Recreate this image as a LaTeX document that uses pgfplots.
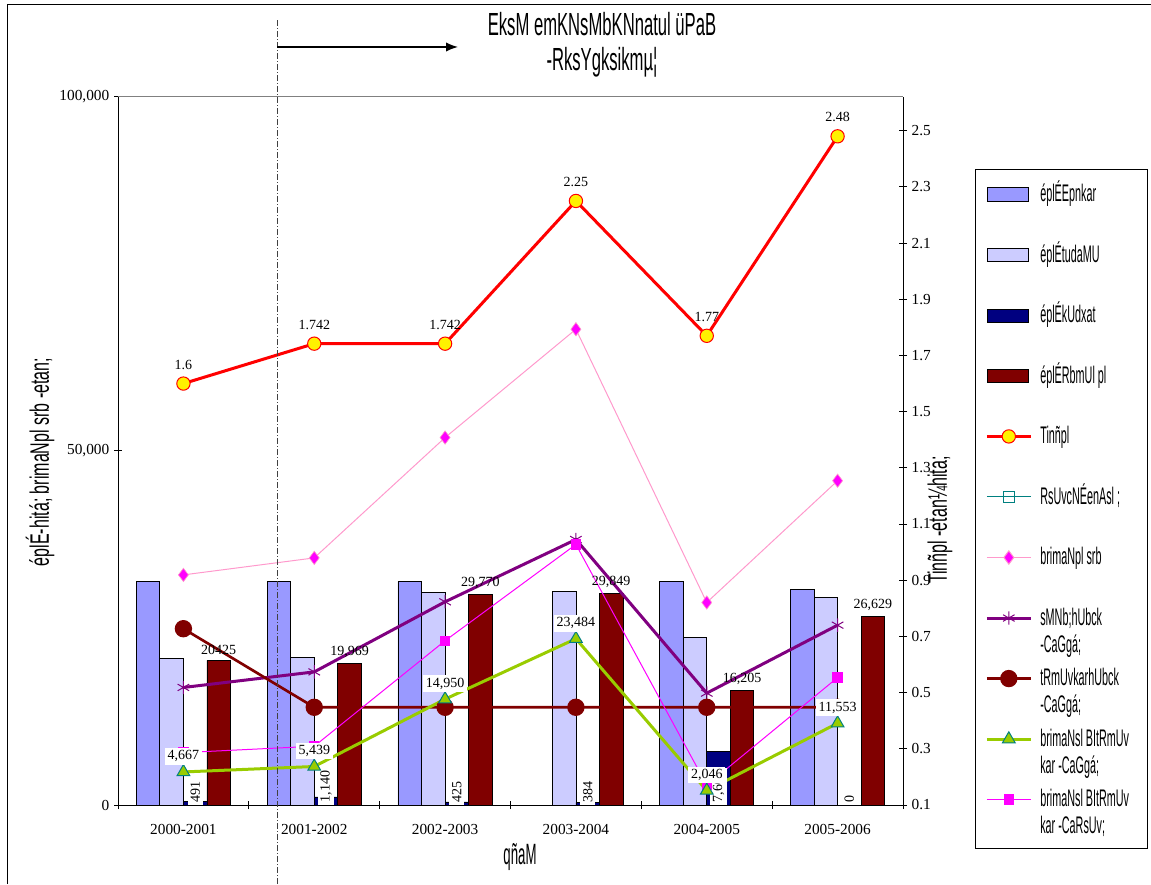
\documentclass[border=0pt]{standalone}
\usepackage{fontspec}
\setmainfont{Liberation Serif}
\newfontfamily\kfont[FakeStretch=0.45]{Liberation Sans}
\newfontfamily\ktitle[FakeStretch=0.52]{Liberation Sans}
\newfontfamily\klab[FakeStretch=0.6]{Liberation Sans}
\usepackage{pgfplots}
\pgfplotsset{compat=1.18}
\usetikzlibrary{arrows.meta}
\definecolor{b1}{HTML}{9999FF}
\definecolor{b2}{HTML}{CCCCFF}
\definecolor{b3}{HTML}{000080}
\definecolor{b4}{HTML}{800000}
\definecolor{pk}{HTML}{FF99CC}
\definecolor{mg}{HTML}{FF00FF}
\definecolor{pu}{HTML}{800080}
\definecolor{gr}{HTML}{99CC00}
\definecolor{tl}{HTML}{008080}
\newcommand\lab{\fontsize{10.5pt}{12pt}\selectfont}
\pgfplotsset{
 barleg/.style={legend image code/.code={\draw[##1] (0pt,-4.9pt) rectangle (31pt,4.9pt);}},
 lineleg/.style={legend image code/.code={\draw[mark repeat=2,mark phase=2,##1] plot coordinates {(0pt,0pt) (16.5pt,0pt) (33pt,0pt)};}},
}
\begin{document}
\begin{tikzpicture}
\useasboundingbox (0,0) rectangle (863.25pt,663pt);
\draw[line width=0.75pt] (5.25pt,0pt) -- (5.25pt,659.25pt) -- (863.25pt,659.25pt);
\begin{axis}[
 at={(88.5pt,59.25pt)}, anchor=south west,
 scale only axis, width=588.75pt, height=531pt,
 xmin=-0.5, xmax=5.5, ymin=0, ymax=100000,
 axis x line*=bottom, axis y line*=left,
 axis line style={line width=0.75pt, -},
 xtick={0,1,2,3,4,5},
 xticklabels={2000-2001,2001-2002,2002-2003,2003-2004,2004-2005,2005-2006},
 major x tick style={draw=none},
 minor xtick={-0.5,0.5,1.5,2.5,3.5,4.5,5.5},
 minor tick length=6pt,
 tick align=center,
 major tick length=6pt,
 ytick={0,50000,100000}, yticklabels={0,{50,000},{100,000}}, scaled y ticks=false,
 tick style={black, line width=0.75pt},
 tick label style={font=\fontsize{11.5pt}{13pt}\selectfont},
 x tick label style={yshift=-8pt},
 clip=false,
]
\draw[gray, line width=0.75pt] (axis cs:-0.5,100000) -- (axis cs:5.5,100000);
\addplot[ybar, bar width=0.18, bar shift=-0.27, fill=b1, draw=black, line width=0.6pt] coordinates {(0,31550)(1,31550)(2,31550)(4,31550)(5,30500)};
\addplot[ybar, bar width=0.18, bar shift=-0.09, fill=b2, draw=black, line width=0.6pt] coordinates {(0,20700)(1,20850)(2,30050)(3,30150)(4,23650)(5,29300)};
\addplot[ybar, bar width=0.18, bar shift=0.09, fill=b3, draw=black, line width=0.6pt] coordinates {(0,491)(1,1140)(2,425)(3,384)(4,7600)(5,0)};
\addplot[ybar, bar width=0.18, bar shift=0.27, fill=b4, draw=black, line width=0.6pt] coordinates {(0,20425)(1,19969)(2,29770)(3,29849)(4,16205)(5,26629)};
% labels of the maroon bars
\addplot[draw=none, nodes near coords, point meta=explicit symbolic,
  every node near coord/.append style={font=\lab, text=black, anchor=south, yshift=1pt}]
  coordinates {(0.27,20425)[20425] (1.27,19969)[19,969] (2.27,29770)[29,770] (3.27,29849)[29,849] (4.27,16205)[16,205] (5.27,26629)[26,629]};
% labels of the navy bars
\addplot[draw=none, nodes near coords, point meta=explicit symbolic,
  every node near coord/.append style={rotate=90, anchor=west, fill=white, inner sep=2pt, font=\lab, text=black}]
  coordinates {(0.09,0)[491] (1.09,0)[1,140] (2.09,0)[425] (3.09,0)[384] (4.09,0)[7,600] (5.09,0)[0]};
\addplot[color=pk, line width=0.75pt, mark=diamond*, mark size=5pt, mark options={fill=mg, draw=pk, line width=0.5pt}]
  coordinates {(0,32500)(1,34900)(2,51900)(3,67200)(4,28600)(5,45800)};
\addplot[color=pu, line width=2.25pt, mark=asterisk, mark size=5pt, mark options={line width=0.75pt}]
  coordinates {(0,16600)(1,18800)(2,28700)(3,37500)(4,15800)(5,25400)};
\addplot[color=b4, line width=2pt, mark=*, mark size=5.5pt, mark options={fill=b4}]
  coordinates {(0,24900)(1,13800)(2,13800)(3,13800)(4,13800)(5,13800)};
\addplot[color=mg, line width=0.75pt, mark=square*, mark size=3.5pt, mark options={fill=mg}]
  coordinates {(0,7400)(1,8300)(2,23200)(3,36800)(4,2800)(5,18000)};
\addplot[color=gr, line width=2.25pt, mark=triangle*, mark size=5.5pt, mark options={fill=gr, draw=tl, line width=0.75pt},
  nodes near coords, point meta=explicit symbolic,
  every node near coord/.append style={fill=white, inner sep=2pt, font=\lab, text=black, yshift=5pt}]
  coordinates {(0,4667)[4,667] (1,5439)[5,439] (2,14950)[14,950] (3,23484)[23,484] (4,2046)[2,046] (5,11553)[11,553]};
\end{axis}
\begin{axis}[
 at={(88.5pt,59.25pt)}, anchor=south west,
 scale only axis, width=588.75pt, height=531pt,
 xmin=-0.5, xmax=5.5, ymin=0.1, ymax=2.62,
 axis x line=none, axis y line*=right,
 axis line style={line width=0.75pt, -},
 ytick={0.1,0.3,0.5,0.7,0.9,1.1,1.3,1.5,1.7,1.9,2.1,2.3,2.5},
 /pgf/number format/assume math mode=true,
 yticklabel style={/pgf/number format/fixed, /pgf/number format/fixed zerofill, /pgf/number format/precision=1, /pgf/number format/assume math mode=true},
 tick align=center, major tick length=6pt,
 tick style={black, line width=0.75pt},
 tick label style={font=\fontsize{11.5pt}{13pt}\selectfont},
 clip=false,
 legend cell align=left,
 legend style={draw=none, fill=none, at={(1.1045,0.9057)}, anchor=north west,
   inner sep=0pt, row sep=0pt, column sep=6pt,
   font=\kfont\fontsize{18pt}{20pt}\selectfont,
   nodes={inner sep=0pt, text height=28.2pt, text depth=17.2pt}},
]
\addlegendimage{barleg, fill=b1, draw=black}
\addlegendentry{éplÉEpnkar}
\addlegendimage{barleg, fill=b2, draw=black}
\addlegendentry{éplÉtudaMU}
\addlegendimage{barleg, fill=b3, draw=black}
\addlegendentry{éplÉkUdxat}
\addlegendimage{barleg, fill=b4, draw=black}
\addlegendentry{éplÉRbmUl pl}
\addlegendimage{lineleg, red, line width=2.25pt, mark=*, mark size=5pt, mark options={fill=yellow, draw=red, line width=0.75pt}}
\addlegendentry{Tinñpl}
\addlegendimage{lineleg, tl, line width=0.75pt, mark=square, mark size=4pt, mark options={draw=tl}}
\addlegendentry{RsUvcNÉenAsl ;}
\addlegendimage{lineleg, pk, line width=0.75pt, mark=diamond*, mark size=5pt, mark options={fill=mg, draw=pk}}
\addlegendentry{brimaNpl srb}
\addlegendimage{lineleg, pu, line width=2.25pt, mark=asterisk, mark size=5pt, mark options={line width=0.75pt}}
\addlegendentry{\vtop{\hbox{sMNb;hUbck}\hbox{-CaGgá;}}}
\addlegendimage{lineleg, b4, line width=2pt, mark=*, mark size=5.5pt, mark options={fill=b4}}
\addlegendentry{\vtop{\hbox{tRmUvkarhUbck}\hbox{-CaGgá;}}}
\addlegendimage{lineleg, gr, line width=2.25pt, mark=triangle*, mark size=5.5pt, mark options={fill=gr, draw=tl, line width=0.75pt}}
\addlegendentry{\vtop{\hbox{brimaNsl BItRmUv}\hbox{kar -CaGgá;}}}
\addlegendimage{lineleg, mg, line width=0.75pt, mark=square*, mark size=3.5pt, mark options={fill=mg}}
\addlegendentry{\vtop{\hbox{brimaNsl BItRmUv}\hbox{kar -CaRsUv;}}}
\addplot[forget plot, color=red, line width=2.25pt, mark=*, mark size=5pt, mark options={fill=yellow, draw=red, line width=0.75pt},
  nodes near coords, point meta=explicit symbolic,
  every node near coord/.append style={font=\lab, text=black, yshift=7pt}]
  coordinates {(0,1.6)[1.6] (1,1.742)[1.742] (2,1.742)[1.742] (3,2.25)[2.25] (4,1.77)[1.77] (5,2.48)[2.48]};
\end{axis}
\draw[dash pattern=on 4.5pt off 1.5pt on 0.75pt off 1.5pt, line width=0.75pt, black!75] (207.75pt,0pt) -- (207.75pt,649.5pt);
\draw[-{Latex[length=9pt,width=7pt]}, line width=1.1pt] (207.75pt,627.75pt) -- (343.5pt,627.75pt);
\draw[line width=0.75pt] (731.25pt,27pt) rectangle (860.25pt,535.5pt);
\node[align=center, inner sep=0pt, font=\ktitle\fontsize{24pt}{26.25pt}\selectfont] at (451.5pt,629.6pt) {EksM emKNsMbKNnatul üPaB\\-RksYgksikmµ¦};
\node[rotate=90, font=\klab\fontsize{20pt}{22pt}\selectfont] at (30pt,316.5pt) {éplÉ-hitá; brimaNpl srb -etan;};
\node[rotate=90, font=\klab\fontsize{20pt}{22pt}\selectfont] at (705pt,273pt) {Tinñpl -etan¼hita;};
\node[font=\kfont\fontsize{22pt}{24pt}\selectfont] at (390pt,20.25pt) {qñaM};
\end{tikzpicture}
\end{document}
